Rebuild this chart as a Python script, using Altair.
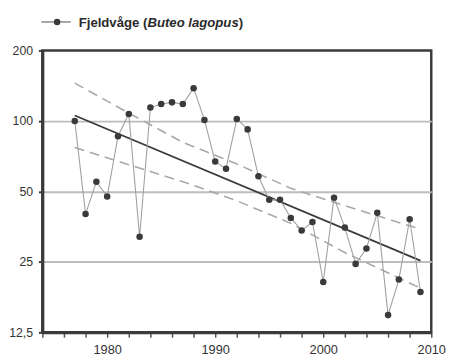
import altair as alt
import pandas as pd

# ---- data ----
years = list(range(1977, 2010))
values = [100, 40, 55, 47.5, 86, 107, 32, 114, 118, 120, 118, 138, 101, 67,
          62.5, 102, 92, 58, 46, 46, 38.5, 34, 37, 20.5, 47, 35, 24.5, 28.5,
          40.5, 14.8, 21, 38, 18.6]

trend_years = [1977, 2009]
trend_values = [105.5, 25.3]

band_years = [1977, 1982, 1987, 1992, 1997, 2002, 2009]
upper_values = [145, 108, 81, 65.5, 51.5, 43.4, 34.5]
lower_values = [77, 65, 55, 45.6, 36.5, 27.4, 19.3]

y_ticks = [12.5, 25, 50, 100, 200]
x_ticks = list(range(1974, 2011, 2))
legend_parts = ["Fjeldvåge (", "Buteo lagopus", ")"]

FONT = "Liberation Sans"
DARK = "#3a3a3a"

df = pd.DataFrame({"year": years, "value": values})
df_trend = pd.DataFrame({"year": trend_years, "value": trend_values})
df_band = pd.concat([
    pd.DataFrame({"year": band_years, "value": upper_values, "band": "upper"}),
    pd.DataFrame({"year": band_years, "value": lower_values, "band": "lower"}),
])

x_axis = alt.Axis(values=x_ticks, title=None,
                  labelExpr="datum.value % 10 == 0 ? toString(datum.value) : ''",
                  labelFlush=False, labelOverlap=False, labelBound=False,
                  grid=False, tickSize=5, tickWidth=1.5, tickColor="#555",
                  labelPadding=7, labelFontSize=13, labelFont=FONT,
                  labelColor="#333", domainColor=DARK, domainWidth=3)
y_axis = alt.Axis(values=y_ticks, title=None,
                  labelExpr="replace(toString(datum.value), '.', ',')",
                  labelFlush=False, labelOverlap=False,
                  grid=True, gridColor="#bdbdbd", gridWidth=2,
                  gridOpacity={"condition": {"test": "datum.value == 200 || datum.value == 12.5", "value": 0}, "value": 1},
                  tickSize=4, tickWidth=2, tickColor=DARK,
                  labelPadding=6, labelFontSize=12.5, labelFont=FONT,
                  labelColor="#333", domainColor=DARK, domainWidth=3)
x_scale = alt.Scale(domain=[1974, 2010], nice=False, zero=False)
y_scale = alt.Scale(type="log", base=2, domain=[12.5, 200], nice=False)


def xe():
    return alt.X("year:Q", scale=x_scale, axis=x_axis)


def ye():
    return alt.Y("value:Q", scale=y_scale, axis=y_axis)


band = alt.Chart(df_band).mark_line(color="#a8a8a8", strokeWidth=1.6, strokeDash=[10, 6]).encode(
    x=xe(), y=ye(), detail="band:N")
trend = alt.Chart(df_trend).mark_line(color=DARK, strokeWidth=1.8).encode(x=xe(), y=ye())
line = alt.Chart(df).mark_line(color="#a0a0a0", strokeWidth=1.1).encode(x=xe(), y=ye())
pts = alt.Chart(df).mark_circle(color=DARK, opacity=1, size=44).encode(x=xe(), y=ye())

# legend (drawn by hand because of the partly italic label)
one = pd.DataFrame({"k": [0]})
leg_line = alt.Chart(one).mark_rule(color="#777", strokeWidth=1.3).encode(
    x=alt.value(-1), x2=alt.value(29), y=alt.value(-29))
leg_pt = alt.Chart(one).mark_circle(color=DARK, opacity=1, size=44).encode(
    x=alt.value(15), y=alt.value(-29))
t1 = alt.Chart(one).mark_text(align="left", baseline="alphabetic", font=FONT, fontSize=13.4,
                              fontWeight="bold", color="#2a2a2a").encode(
    x=alt.value(37), y=alt.value(-24), text=alt.value(legend_parts[0]))
t2 = alt.Chart(one).mark_text(align="left", baseline="alphabetic", font=FONT, fontSize=13.4,
                              fontWeight="bold", fontStyle="italic", color="#2a2a2a").encode(
    x=alt.value(107), y=alt.value(-24), text=alt.value(legend_parts[1]))
t3 = alt.Chart(one).mark_text(align="left", baseline="alphabetic", font=FONT, fontSize=13.4,
                              fontWeight="bold", color="#2a2a2a").encode(
    x=alt.value(200), y=alt.value(-24), text=alt.value(legend_parts[2]))

chart = alt.layer(band, trend, line, pts, leg_line, leg_pt, t1, t2, t3).properties(
    width=396, height=287,
    autosize=alt.AutoSizeParams(type="none"),
    padding={"left": 35, "top": 40, "right": 15, "bottom": 25},
    background="white",
).configure_view(stroke=DARK, strokeWidth=2.5)

chart.save("out.html", embed_options={"renderer": "svg", "actions": False})
